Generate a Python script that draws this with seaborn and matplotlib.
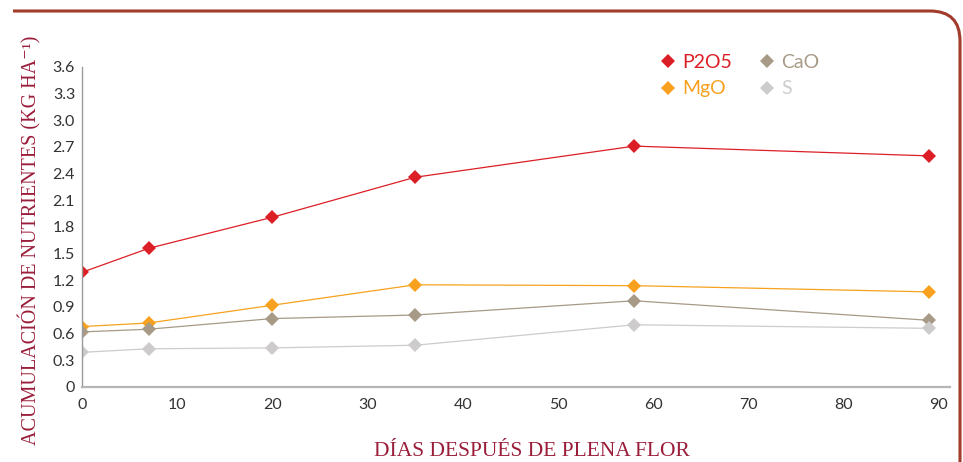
import matplotlib
matplotlib.use("Agg")
import matplotlib.pyplot as plt
from matplotlib.lines import Line2D
from matplotlib.path import Path
from matplotlib.patches import PathPatch
import pandas as pd
import seaborn as sns

# Days after full bloom and accumulated nutrients (kg/ha)
dias = [0, 7, 20, 35, 58, 89]
p2o5 = [1.29, 1.56, 1.91, 2.36, 2.71, 2.60]
mgo = [0.68, 0.72, 0.92, 1.15, 1.14, 1.07]
cao = [0.62, 0.65, 0.77, 0.81, 0.97, 0.75]
s = [0.39, 0.43, 0.44, 0.47, 0.70, 0.66]

series_names = ["P2O5", "MgO", "CaO", "S"]
series_values = [p2o5, mgo, cao, s]
colors = {"P2O5": "#dc1f26", "MgO": "#f7a11e", "CaO": "#a79a87", "S": "#cdcbcb"}

y_ticks = [0, 0.3, 0.6, 0.9, 1.2, 1.5, 1.8, 2.1, 2.4, 2.7, 3.0, 3.3, 3.6]
y_tick_labels = ["0", "0.3", "0.6", "0.9", "1.2", "1.5", "1.8", "2.1", "2.4",
                 "2.7", "3.0", "3.3", "3.6"]
x_ticks = [0, 10, 20, 30, 40, 50, 60, 70, 80, 90]

df = pd.DataFrame(
    [(d, v, name) for name, vals in zip(series_names, series_values)
     for d, v in zip(dias, vals)],
    columns=["dias", "valor", "nutriente"],
)

sns.set_theme(style="white")
plt.rcParams["font.family"] = ["Lato", "DejaVu Sans"]

fig = plt.figure(figsize=(9.63, 4.62), dpi=100)
ax = fig.add_axes([82 / 963, 1 - 387 / 462, 868 / 963, 320 / 462])

sns.lineplot(
    data=df, x="dias", y="valor", hue="nutriente", hue_order=series_names,
    palette=colors, style="nutriente", markers={n: "D" for n in series_names},
    dashes=False, markersize=7, markeredgewidth=0, linewidth=0.9,
    legend=False, ax=ax,
)

ax.set_xlim(0, 868 / 857 * 90)
ax.set_ylim(0, 3.6)
ax.set_xticks(x_ticks)
ax.set_yticks(y_ticks)
ax.set_yticklabels(y_tick_labels)
ax.tick_params(axis="both", length=0, labelsize=11.5, colors="#333333")
ax.tick_params(axis="x", pad=8)
ax.tick_params(axis="y", pad=5)
for side in ("top", "right"):
    ax.spines[side].set_visible(False)
ax.spines["left"].set_color("#9a9a9a")
ax.spines["left"].set_linewidth(1.0)
ax.spines["bottom"].set_color("#b5b5b5")
ax.spines["bottom"].set_linewidth(1.6)
ax.set_xlabel("")
ax.set_ylabel("")

label_color = "#9a1d3a"
serif = ["Liberation Serif", "DejaVu Serif"]
fig.text(532 / 963, 1 - 452 / 462, "DÍAS DESPUÉS DE PLENA FLOR",
         ha="center", va="center", fontsize=15.5, color=label_color,
         family=serif)
fig.text(30 / 963, 1 - 240 / 462, "ACUMULACIÓN DE NUTRIENTES (KG HA⁻¹)",
         ha="center", va="center", rotation=90, fontsize=14.5,
         color=label_color, family=serif)

handles = [Line2D([], [], marker="D", linestyle="none", markersize=7.5,
                  markeredgewidth=0, color=colors[n]) for n in series_names]
leg = ax.legend(handles, series_names, ncol=2, loc="upper left",
                bbox_to_anchor=(652 / 963, 1 - 44 / 462),
                bbox_transform=fig.transFigure, frameon=False, fontsize=14,
                handlelength=0.6, handletextpad=0.45, columnspacing=1.5,
                labelspacing=0.5, borderpad=0)
for txt, n in zip(leg.get_texts(), series_names):
    txt.set_color(colors[n])

# rounded frame along the top and right edges
W, H = 963.0, 462.0
r = 30.0
verts = [(13, 11), (960 - r, 11), (960, 11), (960, 11 + r), (960, 475)]
codes = [Path.MOVETO, Path.LINETO, Path.CURVE3, Path.CURVE3, Path.LINETO]
verts = [(x / W, 1 - y / H) for x, y in verts]
frame = PathPatch(Path(verts, codes), transform=fig.transFigure,
                  facecolor="none", edgecolor="#a23b2b", linewidth=2.2,
                  clip_on=False)
fig.patches.append(frame)

fig.savefig("out.png", dpi=100)
